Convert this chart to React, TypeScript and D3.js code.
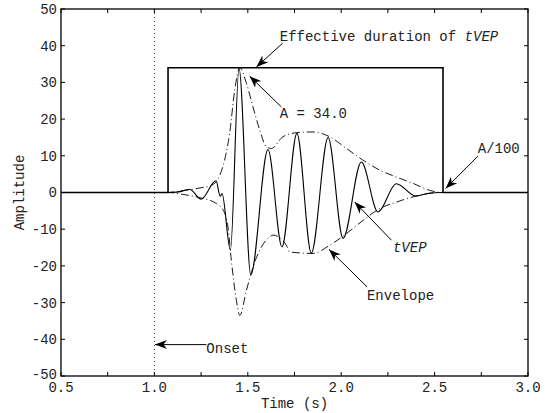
import React from "react";
import * as d3 from "d3";

// tVEP waveform (time s, amplitude)
const tvepT = [0.5, 1.07, 1.12, 1.19, 1.25, 1.33, 1.352, 1.362, 1.407, 1.453, 1.516, 1.608, 1.683, 1.763, 1.84, 1.93, 2.01, 2.108, 2.197, 2.295, 2.4, 2.46, 2.54, 3.0];
const tvepA = [0, 0, 0.1, 0.8, -1.8, 3.2, -1.0, -0.3, -15.7, 33.8, -22.4, 11.7, -14.8, 16.1, -16.5, 15.0, -12.5, 8.3, -5.3, 2.4, -1.0, -0.3, 0, 0];

// envelope, upper and lower halves
const envUpT = [0.5, 1.07, 1.15, 1.25, 1.296, 1.332, 1.366, 1.403, 1.43, 1.457, 1.493, 1.528, 1.564, 1.6, 1.626, 1.688, 1.76, 1.849, 1.938, 2.028, 2.117, 2.206, 2.296, 2.384, 2.473, 2.54, 3.0];
const envUpA = [0, 0, 0.5, 1.3, 1.8, 3.0, 7.0, 16.2, 27.9, 34.0, 29.7, 23.3, 17.0, 12.4, 12.0, 15.2, 16.3, 16.5, 15.2, 12.0, 8.8, 6.1, 4.2, 2.5, 0.6, 0, 0];
const envLoT = [0.5, 1.07, 1.15, 1.25, 1.332, 1.365, 1.394, 1.412, 1.439, 1.457, 1.493, 1.528, 1.564, 1.617, 1.635, 1.707, 1.724, 1.849, 1.938, 2.028, 2.117, 2.206, 2.296, 2.384, 2.456, 2.54, 3.0];
const envLoA = [0, 0, -0.5, -1.5, -3.0, -4.5, -9.4, -18.5, -29.4, -33.5, -26.6, -20.3, -15.7, -12.1, -11.6, -14.4, -16.2, -16.6, -14.4, -11.2, -7.6, -4.4, -2.6, -1.2, -0.3, 0, 0];

// effective duration window
const durT = [0.5, 1.073, 1.073, 2.545, 2.545, 3.0];
const durA = [0, 0, 34, 34, 0, 0];

const onsetTime = 1.0;

const xTicks = [0.5, 0.75, 1.0, 1.25, 1.5, 1.75, 2.0, 2.25, 2.5, 2.75, 3.0];
const xLabels = [0.5, 1.0, 1.5, 2.0, 2.5, 3.0];
const yTicks = [-50, -40, -30, -20, -10, 0, 10, 20, 30, 40, 50];

// annotations: text anchor (tx, ty) and arrow tail -> head, in data units
const notes = [
  { text: "Effective duration of ", em: "tVEP", tx: 1.671, ty: 41.3, x1: 1.687, y1: 40.7, x2: 1.546, y2: 34.2 },
  { text: "A = 34.0", em: "", tx: 1.671, ty: 20.2, x1: 1.68, y1: 23.3, x2: 1.51, y2: 31.7 },
  { text: "A/100", em: "", tx: 2.731, ty: 10.7, x1: 2.732, y1: 9.9, x2: 2.559, y2: 1.1 },
  { text: "", em: "tVEP", tx: 2.277, ty: -16.3, x1: 2.269, y1: -13.0, x2: 2.072, y2: -2.6 },
  { text: "Envelope", em: "", tx: 2.138, ty: -29.4, x1: 2.138, y1: -25.7, x2: 1.935, y2: -15.5 },
  { text: "Onset", em: "", tx: 1.278, ty: -42.5, x1: 1.278, y1: -41.45, x2: 1.003, y2: -41.45 },
];

const W = 555;
const H = 413;
const margin = { top: 9, right: 27, bottom: 37, left: 61 };
const font = "'Liberation Mono', 'Courier New', monospace";

export default function App() {
  const x = d3.scaleLinear().domain([0.5, 3.0]).range([margin.left, W - margin.right]);
  const y = d3.scaleLinear().domain([-50, 50]).range([H - margin.bottom, margin.top]);

  const smooth = d3
    .line<number>()
    .x((d) => x(d))
    .curve(d3.curveMonotoneX);

  const pathOf = (ts: number[], as: number[]) =>
    smooth.y((_, i) => y(as[i]))(ts) || "";

  const straight = d3
    .line<number>()
    .x((d) => x(d))
    .y((_, i) => y(durA[i]))(durT) || "";

  const x0 = x(0.5), x1 = x(3.0), y0 = y(50), y1 = y(-50);

  return (
    <svg width={W} height={H} style={{ position: "absolute", left: 0, top: 0, background: "#fff" }} fontFamily={font} fontSize={14}>
      <defs>
        <marker id="arr" markerUnits="userSpaceOnUse" markerWidth={14} markerHeight={10} refX={12} refY={5} orient="auto">
          <path d="M0,0.5 L12,5 L0,9.5 L3.5,5 Z" fill="#000" />
        </marker>
      </defs>

      {/* onset */}
      <line x1={x(onsetTime)} x2={x(onsetTime)} y1={y0} y2={y1} stroke="#444" strokeWidth={1} strokeDasharray="1,3" />

      {/* effective duration window */}
      <path d={straight} fill="none" stroke="#000" strokeWidth={1.6} />

      {/* envelope */}
      <path d={pathOf(envUpT, envUpA)} fill="none" stroke="#000" strokeWidth={0.9} strokeDasharray="8,3,1,3" />
      <path d={pathOf(envLoT, envLoA)} fill="none" stroke="#000" strokeWidth={0.9} strokeDasharray="8,3,1,3" />

      {/* tVEP */}
      <path d={pathOf(tvepT, tvepA)} fill="none" stroke="#000" strokeWidth={1.1} />

      {/* frame */}
      <rect x={x0} y={y0} width={x1 - x0} height={y1 - y0} fill="none" stroke="#000" strokeWidth={1.3} />

      {xTicks.map((t) => (
        <g key={"xt" + t}>
          <line x1={x(t)} x2={x(t)} y1={y1} y2={y1 - 4} stroke="#000" />
          <line x1={x(t)} x2={x(t)} y1={y0} y2={y0 + 4} stroke="#000" />
        </g>
      ))}
      {yTicks.map((t) => (
        <g key={"yt" + t}>
          <line x1={x0} x2={x0 + 4} y1={y(t)} y2={y(t)} stroke="#000" />
          <line x1={x1} x2={x1 - 4} y1={y(t)} y2={y(t)} stroke="#000" />
          <text x={x0 - 4} y={y(t)} dy={t === -50 ? "0.2em" : "0.35em"} textAnchor="end" fill="#222">
            {t}
          </text>
        </g>
      ))}
      {xLabels.map((t) => (
        <text key={"xl" + t} x={x(t)} y={y1 + 16} textAnchor="middle" fill="#222">
          {d3.format(".1f")(t)}
        </text>
      ))}

      <text x={(x0 + x1) / 2} y={y1 + 32} textAnchor="middle" fill="#222">
        Time (s)
      </text>
      <text transform={`translate(24,${(y0 + y1) / 2}) rotate(-90)`} textAnchor="middle" fill="#222">
        Amplitude
      </text>

      {notes.map((n, i) => (
        <g key={"n" + i}>
          <line x1={x(n.x1)} y1={y(n.y1)} x2={x(n.x2)} y2={y(n.y2)} stroke="#000" strokeWidth={1} markerEnd="url(#arr)" />
          <text x={x(n.tx)} y={y(n.ty)} dy={n.text === "Onset" ? "0.35em" : 0} fill="#222">
            {n.text}
            {n.em && <tspan fontStyle="italic">{n.em}</tspan>}
          </text>
        </g>
      ))}
    </svg>
  );
}
